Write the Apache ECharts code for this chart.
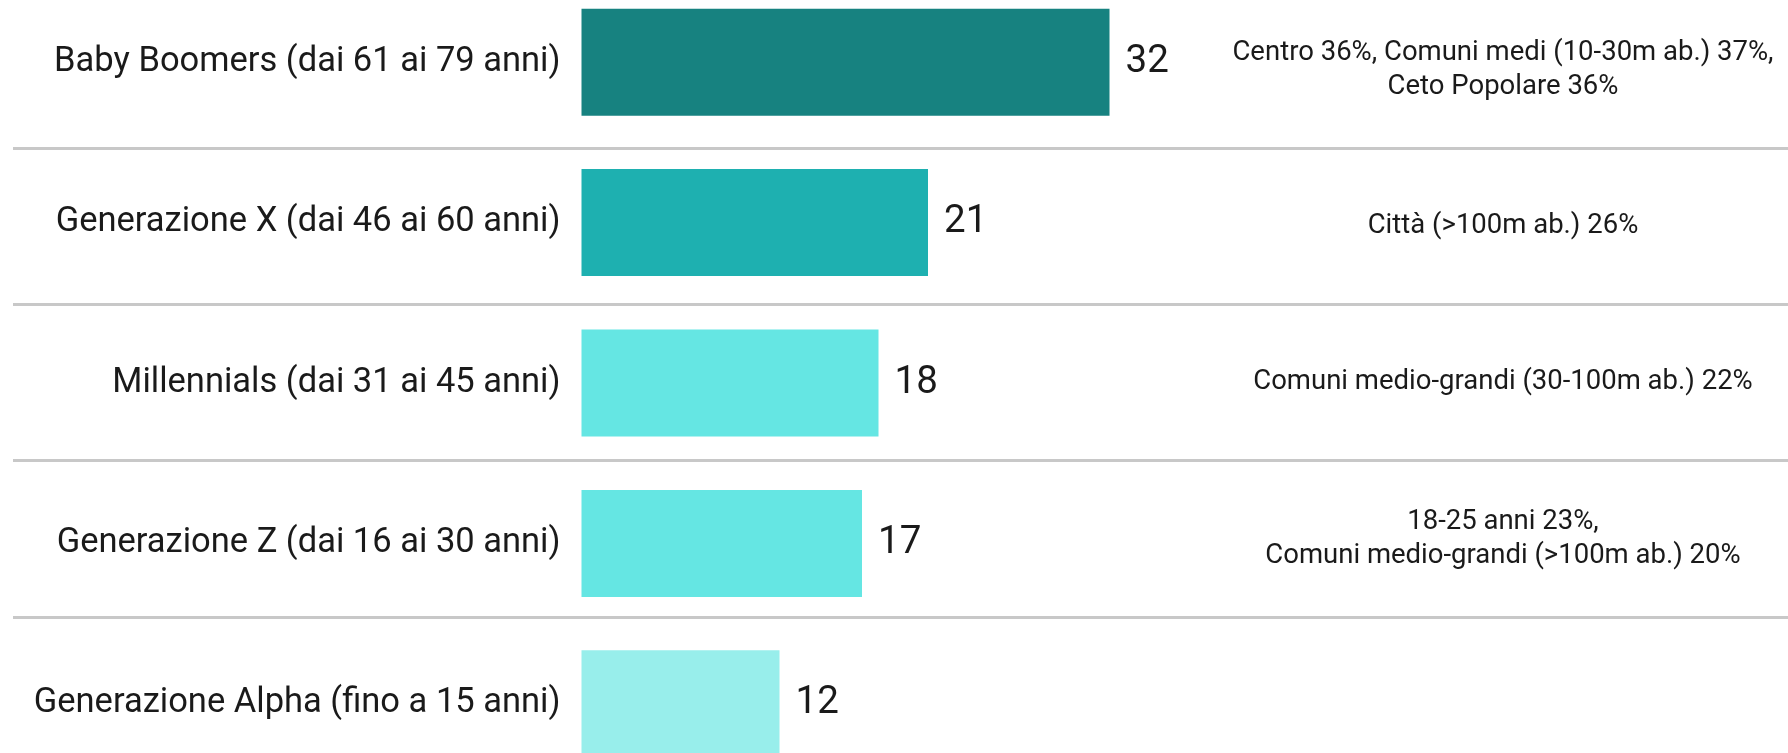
<!DOCTYPE html>
<html>
<head>
<meta charset="utf-8">
<script src="https://cdn.jsdelivr.net/npm/echarts@6/dist/echarts.min.js"></script>
<style>
html,body{margin:0;padding:0;background:#fff;}
#chart{width:1788px;height:753px;}
</style>
</head>
<body>
<div id="chart"></div>
<script>
const categories = [
  'Baby Boomers (dai 61 ai 79 anni)',
  'Generazione X (dai 46 ai 60 anni)',
  'Millennials (dai 31 ai 45 anni)',
  'Generazione Z (dai 16 ai 30 anni)',
  'Generazione Alpha (fino a 15 anni)'
];
const values = [32, 21, 18, 17, 12];
const barColors = ['#178280', '#1EB0B0', '#65E6E3', '#65E6E3', '#98EEEB'];
const annotations = [
  'Centro 36%, Comuni medi (10-30m ab.) 37%,\nCeto Popolare 36%',
  'Città (>100m ab.) 26%',
  'Comuni medio-grandi (30-100m ab.) 22%',
  '18-25 anni 23%,\nComuni medio-grandi (>100m ab.) 20%',
  ''
];

const FONT = 'Roboto';
const TEXT = '#1a1a1a';
const chart = echarts.init(document.getElementById('chart'), null, {renderer: 'canvas'});
chart.setOption({
  animation: false,
  backgroundColor: '#ffffff',
  grid: [
    {left: 581.5, top: -18, height: 802, width: 990, containLabel: false, outerBoundsMode: 'none'},
    {left: 13, top: -8, height: 781, right: 0, containLabel: false, outerBoundsMode: 'none'}
  ],
  xAxis: [
    {type: 'value', gridIndex: 0, min: 0, max: 60, show: false},
    {type: 'value', gridIndex: 1, min: 0, max: 1, show: false}
  ],
  yAxis: [
    {
      type: 'category', gridIndex: 0, inverse: true, data: categories,
      axisLine: {show: false}, axisTick: {show: false}, splitLine: {show: false},
      axisLabel: {interval: 0, margin: 21, fontFamily: FONT, fontSize: 34.5, color: TEXT}
    },
    {
      type: 'category', gridIndex: 1, inverse: true, position: 'right', data: annotations,
      axisLine: {show: false}, axisTick: {show: false},
      splitLine: {show: true, lineStyle: {color: '#c8c8c8', width: 3}},
      axisLabel: {interval: 0, margin: -285, align: 'center', fontFamily: FONT, fontSize: 27.5, lineHeight: 34, color: TEXT}
    }
  ],
  series: [
    {
      type: 'bar', xAxisIndex: 0, yAxisIndex: 0, barWidth: 107,
      data: values.map((v, i) => ({value: v, itemStyle: {color: barColors[i]}})),
      label: {show: true, position: 'right', distance: 16, fontFamily: FONT, fontSize: 38.5, color: TEXT}
    },
    {
      type: 'bar', xAxisIndex: 1, yAxisIndex: 1, data: [], silent: true
    }
  ]
});
</script>
</body>
</html>
